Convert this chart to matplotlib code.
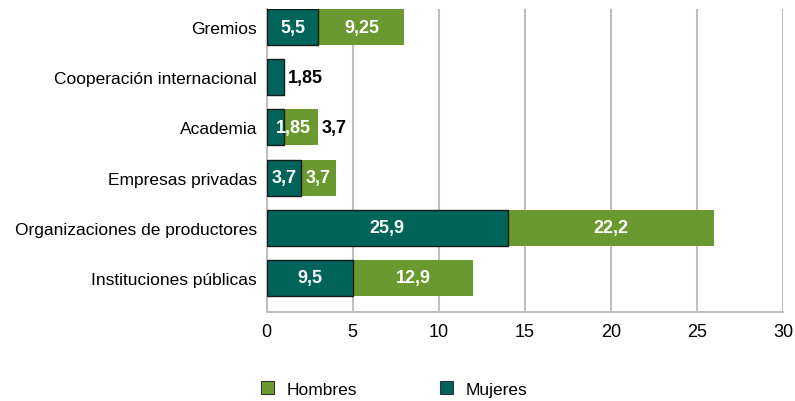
import matplotlib
matplotlib.use("Agg")
import matplotlib.pyplot as plt
import numpy as np

plt.rcParams['font.family'] = ['Liberation Sans', 'DejaVu Sans']

categories = ['Gremios', 'Cooperación internacional', 'Academia',
              'Empresas privadas', 'Organizaciones de productores',
              'Instituciones públicas']
mujeres = [3, 1, 1, 2, 14, 5]
hombres = [5, 0, 2, 2, 12, 7]
mujeres_pct = ['5,5', '1,85', '1,85', '3,7', '25,9', '9,5']
hombres_pct = ['9,25', '', '3,7', '3,7', '22,2', '12,9']
# where each label goes: 'c' centered inside, 'out' just past the bar end
mujeres_where = ['c', 'out', 'shift', 'c', 'c', 'c']
hombres_where = ['c', '', 'out', 'c', 'c', 'c']

c_muj = '#00645A'
c_hom = '#6A9A2F'

fig = plt.figure(figsize=(7.95, 4.02), dpi=100)
ax = fig.add_axes([0.3355, 0.2214, 0.6495, 0.7536])

y = np.arange(len(categories))
ax.barh(y, mujeres, height=0.72, color=c_muj, edgecolor='#1a1a1a',
        linewidth=1.0, label='Mujeres', zorder=3)
ax.barh(y, hombres, left=mujeres, height=0.72, color=c_hom,
        linewidth=0, label='Hombres', zorder=2)

lab_font = dict(fontsize=13, fontweight='bold',
                family=['Liberation Sans Narrow', 'Liberation Sans'])
for i in range(len(categories)):
    m, h = mujeres[i], hombres[i]
    if mujeres_where[i] == 'c':
        ax.text(m / 2, y[i], mujeres_pct[i], ha='center', va='center',
                color='white', zorder=5, **lab_font)
    elif mujeres_where[i] == 'out':
        ax.annotate(mujeres_pct[i], (m + h, y[i]), xytext=(3, 0),
                    textcoords='offset points', ha='left', va='center',
                    color='black', zorder=5, **lab_font)
    elif mujeres_where[i] == 'shift':
        ax.annotate(mujeres_pct[i], (m, y[i]), xytext=(-6, 0),
                    textcoords='offset points', ha='left', va='center',
                    color='white', zorder=5, **lab_font)
    if hombres_where[i] == 'c':
        ax.text(m + h / 2, y[i], hombres_pct[i], ha='center', va='center',
                color='white', zorder=5, **lab_font)
    elif hombres_where[i] == 'out':
        ax.annotate(hombres_pct[i], (m + h, y[i]), xytext=(2, 0),
                    textcoords='offset points', ha='left', va='center',
                    color='black', zorder=5, **lab_font)

ax.set_yticks(y)
ax.set_yticklabels(categories, fontsize=12.5)
ax.set_ylim(len(categories) - 1 + 0.68, -0.36)
ax.set_xlim(0, 30)
ax.set_xticks(range(0, 31, 5))
ax.tick_params(axis='x', labelsize=13, length=0, pad=8)
ax.tick_params(axis='y', length=0, pad=7)
ax.grid(axis='x', color='#BFBFBF', linewidth=1.5, zorder=0)
for s in ['top', 'right']:
    ax.spines[s].set_visible(False)
for s in ['left', 'bottom']:
    ax.spines[s].set_color('#BFBFBF')
    ax.spines[s].set_linewidth(1.5)

handles, labels = ax.get_legend_handles_labels()
leg = fig.legend(handles[::-1], labels[::-1], loc='center',
                 bbox_to_anchor=(0.496, 0.03), ncol=2, frameon=False,
                 fontsize=12.5, handlelength=0.75, handleheight=0.75,
                 columnspacing=4.8, handletextpad=0.7, borderpad=0)
for p in leg.get_patches():
    p.set_edgecolor('#333333')
    p.set_linewidth(0.8)

fig.savefig('out.png', dpi=100)
